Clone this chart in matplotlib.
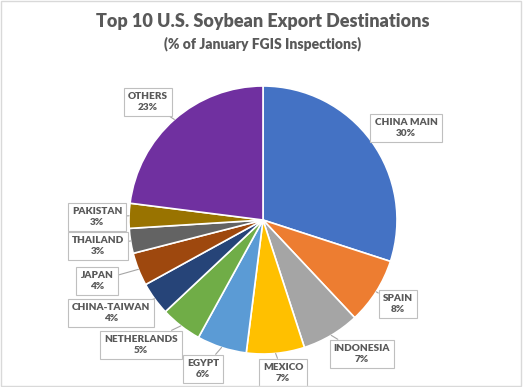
import numpy as np
import matplotlib
matplotlib.use("Agg")
import matplotlib.pyplot as plt
from matplotlib.patches import Rectangle

# data
countries = ["CHINA MAIN", "SPAIN", "INDONESIA", "MEXICO", "EGYPT", "NETHERLANDS",
             "CHINA-TAIWAN", "JAPAN", "THAILAND", "PAKISTAN", "OTHERS"]
shares = [30, 8, 7, 7, 6, 5, 4, 4, 3, 3, 23]

colors = ["#4472C4", "#ED7D31", "#A5A5A5", "#FFC000", "#5B9BD5", "#70AD47",
          "#264478", "#9E480E", "#636363", "#997300", "#7030A0"]

# label box centres in pixel coords (x from left, y from top)
label_xy = [(406, 128), (398, 304), (362, 354), (283, 373), (203, 369), (141, 345),
            (111, 313), (97, 281), (98, 246), (97, 217), (148, 102)]

W, H = 525, 387
CX, CY, R = 263, 220, 134
GRAY = "#595959"
FONT = "Lato"


def main():
    fig = plt.figure(figsize=(W / 100, H / 100), dpi=100)
    ax = fig.add_axes([0, 0, 1, 1])
    ax.set_xlim(0, W)
    ax.set_ylim(0, H)
    ax.axis("off")

    wedges, _ = ax.pie(shares, colors=colors, startangle=90, counterclock=False,
                       center=(CX, H - CY), radius=R,
                       wedgeprops=dict(edgecolor="white", linewidth=1.2))
    ax.set_xlim(0, W)
    ax.set_ylim(0, H)
    ax.set_aspect("equal")

    for w, name, val, (lx, ly) in zip(wedges, countries, shares, label_xy):
        mid = np.deg2rad((w.theta1 + w.theta2) / 2)
        px = CX + R * np.cos(mid)
        py = (H - CY) + R * np.sin(mid)
        ax.annotate(f"{name}\n{val}%", xy=(px, py), xytext=(lx, H - ly),
                    ha="center", va="center", fontsize=7.2, fontweight="heavy",
                    color=GRAY, family=FONT, linespacing=1.3,
                    bbox=dict(boxstyle="square,pad=0.42", fc="white", ec="#BFBFBF", lw=0.8),
                    arrowprops=dict(arrowstyle="-", color="#A6A6A6", lw=0.8,
                                    shrinkA=0, shrinkB=0))

    fig.text(0.5, 1 - 21 / H, "Top 10 U.S. Soybean Export Destinations", ha="center",
             va="center", fontsize=13, fontweight="heavy", color=GRAY, family=FONT)
    fig.text(0.5, 1 - 44 / H, "(% of January FGIS Inspections)", ha="center",
             va="center", fontsize=10, fontweight="heavy", color=GRAY, family=FONT)

    # chart-area border
    fig.patches.append(Rectangle((0.002, 0.002), 0.99, 0.996, transform=fig.transFigure,
                                 fill=False, ec="#D9D9D9", lw=1))

    fig.savefig("out.png", dpi=100)
    plt.close(fig)


if __name__ == "__main__":
    main()
